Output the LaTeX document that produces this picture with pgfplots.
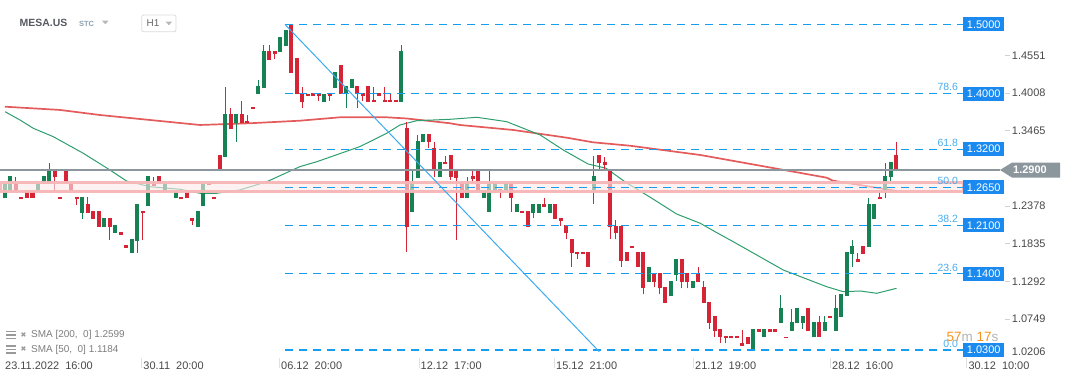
\documentclass[border=0pt]{standalone}
\usepackage{pgfplots}
\pgfplotsset{compat=1.18}
\usepackage{pgfplotstable}
\usepackage{fontspec}
\setmainfont{Liberation Sans}
\newfontfamily\dejavu{DejaVu Sans}
\definecolor{redc}{RGB}{212,36,54}
\definecolor{greenc}{RGB}{22,130,84}
\definecolor{fibblue}{RGB}{22,158,240}
\definecolor{diagblue}{RGB}{60,170,240}
\definecolor{fibtxt}{RGB}{70,172,238}
\definecolor{boxblue}{RGB}{26,138,240}
\definecolor{smared}{RGB}{222,62,62}
\definecolor{smagreen}{RGB}{46,158,110}
\definecolor{pricegray}{RGB}{140,151,157}
\definecolor{bandfill}{RGB}{253,232,232}
\definecolor{bandedge}{RGB}{246,182,182}
\definecolor{txtgray}{RGB}{72,72,72}
\definecolor{leggray}{RGB}{125,125,125}
\definecolor{timeorange}{RGB}{247,148,29}
\tikzset{
  fiblab/.style={anchor=south east, inner sep=0pt, text=fibtxt, font=\fontsize{10.5}{12}\selectfont, yshift=2.5bp},
  pbox/.style={anchor=west, fill=boxblue, text=white, inner sep=0pt, minimum width=41bp, minimum height=14bp, font=\fontsize{11}{12}\selectfont},
  rlab/.style={anchor=west, inner sep=0pt, text=txtgray, font=\fontsize{11}{12}\selectfont}}

\pgfplotstableread{
i o h l c
2 1.2697 1.2794 1.2600 1.2600
3 1.2514 1.2514 1.2476 1.2476
4 1.2611 1.2611 1.2491 1.2491
5 1.2611 1.2611 1.2491 1.2491
9 1.2914 1.2914 1.2600 1.2794
10 1.2514 1.2514 1.2476 1.2476
11 1.2914 1.2914 1.2697 1.2697
12 1.2697 1.2697 1.2600 1.2600
13 1.2514 1.2514 1.2394 1.2476
15 1.2408 1.2505 1.2283 1.2283
16 1.2307 1.2307 1.2187 1.2187
17 1.2307 1.2307 1.2080 1.2080
19 1.2202 1.2202 1.1889 1.2080
21 1.1999 1.1999 1.1961 1.1961
22 1.1816 1.1816 1.1778 1.1778
25 1.2307 1.2307 1.1889 1.2274
27 1.2697 1.2794 1.2668 1.2668
28 1.2813 1.2813 1.2697 1.2697
30 1.2611 1.2611 1.2596 1.2596
32 1.2505 1.2505 1.2476 1.2476
33 1.2611 1.2611 1.2491 1.2491
34 1.2202 1.2202 1.2105 1.2167
37 1.2707 1.2707 1.2678 1.2678
38 1.2505 1.2505 1.2476 1.2476
39 1.3116 1.3116 1.2899 1.2899
41 1.3708 1.3799 1.3487 1.3487
43 1.3708 1.3900 1.3582 1.3582
44 1.3611 1.3693 1.3574 1.3574
45 1.3809 1.3809 1.3776 1.3776
48 1.4617 1.4704 1.4487 1.4487
49 1.4617 1.4617 1.4502 1.4574
52 1.4993 1.4993 1.4295 1.4295
53 1.4512 1.4512 1.3992 1.3992
54 1.3992 1.4102 1.3799 1.3885
55 1.4001 1.4001 1.3972 1.3972
56 1.4007 1.4007 1.3972 1.3972
57 1.4007 1.4007 1.3895 1.3972
59 1.4007 1.4007 1.3895 1.3972
61 1.4415 1.4415 1.3997 1.3997
64 1.4112 1.4112 1.3799 1.3992
65 1.4007 1.4007 1.3895 1.3972
66 1.4112 1.4112 1.3885 1.3885
67 1.3910 1.4102 1.3877 1.3877
68 1.4007 1.4007 1.3972 1.3972
69 1.3910 1.4102 1.3877 1.3877
70 1.3910 1.3997 1.3877 1.3877
71 1.3910 1.3910 1.3877 1.3877
73 1.3501 1.3588 1.1711 1.2080
77 1.3419 1.3419 1.3213 1.3299
78 1.3213 1.3308 1.2803 1.2899
80 1.3015 1.3106 1.2982 1.2982
81 1.3116 1.3116 1.2755 1.2794
82 1.2914 1.2914 1.1889 1.2788
83 1.2730 1.2730 1.2491 1.2491
85 1.2813 1.2889 1.2712 1.2769
86 1.2914 1.2914 1.2596 1.2596
90 1.2621 1.2621 1.2499 1.2596
92 1.2707 1.2707 1.2297 1.2491
94 1.2307 1.2307 1.2274 1.2274
95 1.2307 1.2307 1.2080 1.2080
98 1.2404 1.2491 1.2369 1.2369
100 1.2404 1.2404 1.2187 1.2187
101 1.2202 1.2202 1.2091 1.2167
102 1.2105 1.2105 1.1899 1.1985
103 1.1899 1.1899 1.1503 1.1697
104 1.1711 1.1711 1.1610 1.1682
105 1.1711 1.1711 1.1682 1.1682
106 1.1711 1.1711 1.1495 1.1495
108 1.3116 1.3116 1.2909 1.2996
109 1.3010 1.3091 1.2909 1.2971
110 1.2909 1.2909 1.1899 1.2072
111 1.2091 1.2177 1.1899 1.1985
112 1.2091 1.2091 1.1503 1.1590
113 1.1711 1.1711 1.1590 1.1590
114 1.1806 1.1806 1.1778 1.1778
115 1.1711 1.1711 1.1495 1.1495
116 1.1711 1.1711 1.1105 1.1191
118 1.1408 1.1408 1.1206 1.1287
119 1.1408 1.1408 1.1105 1.1191
120 1.1206 1.1206 1.0983 1.0983
123 1.1610 1.1610 1.1191 1.1287
124 1.1408 1.1408 1.1191 1.1287
126 1.1408 1.1503 1.1287 1.1287
127 1.1206 1.1297 1.0983 1.0983
128 1.0998 1.0998 1.0599 1.0686
129 1.0796 1.0796 1.0493 1.0579
130 1.0599 1.0599 1.0397 1.0484
131 1.0503 1.0503 1.0397 1.0469
132 1.0503 1.0503 1.0469 1.0469
133 1.0503 1.0503 1.0469 1.0469
134 1.0397 1.0589 1.0363 1.0363
135 1.0493 1.0493 1.0383 1.0383
137 1.0599 1.0599 1.0565 1.0565
139 1.0599 1.0599 1.0565 1.0565
140 1.0599 1.0599 1.0565 1.0565
142 1.0493 1.0493 1.0469 1.0469
146 1.0903 1.0903 1.0579 1.0579
148 1.0700 1.0791 1.0484 1.0484
150 1.0796 1.0796 1.0767 1.0767
155 1.1610 1.1697 1.1576 1.1576
156 1.1806 1.1806 1.1687 1.1687
159 1.2505 1.2611 1.2476 1.2476
162 1.3116 1.3299 1.2899 1.2899
}\redtab

\pgfplotstableread{
i o h l c
0 1.2491 1.2697 1.2491 1.2697
1 1.2600 1.2813 1.2600 1.2813
6 1.2600 1.2697 1.2600 1.2697
7 1.2697 1.2813 1.2697 1.2813
8 1.2697 1.3005 1.2697 1.2914
14 1.2283 1.2505 1.2196 1.2505
18 1.2080 1.2202 1.2080 1.2202
20 1.1985 1.2105 1.1985 1.2105
23 1.1697 1.1899 1.1697 1.1899
24 1.1878 1.2408 1.1705 1.2408
26 1.2384 1.2813 1.2384 1.2813
29 1.2600 1.2697 1.2600 1.2697
31 1.2491 1.2600 1.2491 1.2600
35 1.2080 1.2307 1.2080 1.2307
36 1.2384 1.2697 1.2384 1.2697
40 1.3091 1.4102 1.3091 1.3708
42 1.3582 1.3708 1.3308 1.3708
46 1.3992 1.4199 1.3992 1.4112
47 1.4087 1.4704 1.4087 1.4617
50 1.4599 1.4815 1.4599 1.4815
51 1.4694 1.4921 1.4694 1.4921
58 1.3885 1.3997 1.3885 1.3997
60 1.4087 1.4310 1.4087 1.4310
62 1.3992 1.4112 1.3799 1.4112
63 1.4087 1.4209 1.4087 1.4209
72 1.3885 1.4704 1.3885 1.4617
74 1.2288 1.2885 1.2288 1.2712
75 1.2788 1.3405 1.2788 1.3318
76 1.3299 1.3419 1.3299 1.3419
79 1.2794 1.3015 1.2794 1.3015
84 1.2491 1.2803 1.2491 1.2730
87 1.2491 1.2611 1.2491 1.2611
88 1.2288 1.2889 1.2288 1.2707
89 1.2596 1.2707 1.2596 1.2707
91 1.2596 1.2707 1.2596 1.2707
93 1.2288 1.2404 1.2288 1.2404
96 1.2283 1.2404 1.2202 1.2404
97 1.2283 1.2404 1.2283 1.2404
99 1.2283 1.2404 1.2283 1.2404
107 1.2611 1.3101 1.2404 1.2813
117 1.1287 1.1503 1.1287 1.1503
121 1.1085 1.1301 1.1085 1.1301
122 1.1383 1.1610 1.1301 1.1610
125 1.1191 1.1301 1.1191 1.1301
136 1.0290 1.0599 1.0290 1.0599
138 1.0484 1.0599 1.0484 1.0599
141 1.0686 1.1095 1.0686 1.0903
143 1.0579 1.0888 1.0579 1.0700
144 1.0686 1.0903 1.0686 1.0903
145 1.0686 1.0796 1.0599 1.0796
147 1.0484 1.0700 1.0484 1.0700
149 1.0579 1.0791 1.0579 1.0700
151 1.0579 1.1095 1.0579 1.0903
152 1.0781 1.1105 1.0781 1.1105
153 1.1085 1.1711 1.1085 1.1711
154 1.1687 1.1889 1.1503 1.1806
157 1.1792 1.2491 1.1792 1.2408
158 1.2187 1.2408 1.2187 1.2408
160 1.2600 1.3005 1.2491 1.2813
161 1.2794 1.3010 1.2745 1.3010
}\greentab

\begin{document}
\begin{tikzpicture}
\useasboundingbox (0bp,0bp) rectangle (1072bp,382bp);
\begin{axis}[at={(0bp,25bp)}, anchor=south west, scale only axis,
  width=960bp, height=357bp,
  xmin=-0.909, xmax=173.636, ymin=1.0199, ymax=1.53537,
  hide axis, clip=false]

% SMA 200
\addplot[smared, line width=1.7bp, opacity=0.85, forget plot] coordinates {
(0,1.3813) (10,1.3766) (17.27,1.3693) (29.4,1.3597) (35.45,1.3549) (44.55,1.3574)
(53.64,1.3611) (60.9,1.3660) (69.4,1.3660) (73.0,1.3643) (80.9,1.3574) (82.7,1.3549)
(92.4,1.3477) (102.1,1.3366) (106.9,1.3299) (113.6,1.3250) (126.4,1.3116)
(137.3,1.2961) (149.4,1.2788) (150.5,1.2745) (162.1,1.2596)};
% SMA 50
\addplot[smagreen, line width=1bp, forget plot] coordinates {
(0,1.3741) (2.73,1.3621) (5.15,1.3501) (8.78,1.3380) (14.24,1.3140) (19.09,1.2899)
(22.1,1.2740) (26.36,1.2658) (31.8,1.2621) (35.45,1.2563) (38.5,1.2563) (42.7,1.2611)
(47.6,1.2730) (53.6,1.2947) (56.7,1.3019) (64.5,1.3236) (69.4,1.3429) (71.8,1.3549)
(74.85,1.3611) (80.9,1.3631) (85.8,1.3660) (91.2,1.3597) (97.3,1.3405) (101.5,1.3188)
(106.0,1.2986) (109.3,1.2924) (112.7,1.2730) (117.6,1.2491) (122.1,1.2264)
(126.4,1.2130) (129.1,1.2008) (132.4,1.1864) (141.5,1.1455) (149.4,1.1214)
(152.4,1.1142) (155.5,1.1152) (158.5,1.1119) (162.1,1.1191)};

% wicks
\addplot[forget plot, draw=none, mark=none,
  error bars/.cd, y dir=plus, y explicit, error mark=none,
  error bar style={line width=1bp, draw=redc, solid}]
  table[x=i, y=l, y error expr=\thisrow{h}-\thisrow{l}] {\redtab};
\addplot[forget plot, draw=none, mark=none,
  error bars/.cd, y dir=plus, y explicit, error mark=none,
  error bar style={line width=1bp, draw=greenc, solid}]
  table[x=i, y=l, y error expr=\thisrow{h}-\thisrow{l}] {\greentab};
% bodies
\addplot[forget plot, draw=none, mark=none,
  error bars/.cd, y dir=plus, y explicit, error mark=none,
  error bar style={line width=4bp, draw=redc, solid}]
  table[x=i, y=c, y error expr=\thisrow{o}-\thisrow{c}] {\redtab};
\addplot[forget plot, draw=none, mark=none,
  error bars/.cd, y dir=plus, y explicit, error mark=none,
  error bar style={line width=4bp, draw=greenc, solid}]
  table[x=i, y=o, y error expr=\thisrow{c}-\thisrow{o}] {\greentab};

% band
\addplot[forget plot, draw=bandedge, line width=3bp, fill=bandfill, fill opacity=0.62, draw opacity=0.95]
  coordinates {(-0.909,1.2723) (174.18,1.2723) (174.18,1.2585) (-0.909,1.2585)} -- cycle;

% current price line
\addplot[forget plot, pricegray, line width=1.2bp] coordinates {(-0.909,1.29) (180.9,1.29)};

% fib levels
\pgfplotsinvokeforeach{1.5,1.4,1.32,1.265,1.21,1.14,1.03}{
  \addplot[forget plot, fibblue, line width=1.3bp, dash pattern=on 8bp off 6bp]
    coordinates {(50.91,#1) (174.18,#1)};
}
% diagonal
\addplot[forget plot, diagblue, line width=1bp] coordinates {(50.91,1.5) (108.05,1.0276)};

% fib percentage labels
\node[fiblab] at (axis cs:173.3,1.4) {78.6};
\node[fiblab] at (axis cs:173.3,1.32) {61.8};
\node[fiblab] at (axis cs:173.3,1.265) {50.0};
\node[fiblab] at (axis cs:173.3,1.21) {38.2};
\node[fiblab] at (axis cs:173.3,1.14) {23.6};
\node[fiblab] at (axis cs:173.3,1.03) {0.0};
% blue price boxes
\node[pbox] at (axis cs:174.18,1.5) {1.5000};
\node[pbox] at (axis cs:174.18,1.4) {1.4000};
\node[pbox] at (axis cs:174.18,1.32) {1.3200};
\node[pbox] at (axis cs:174.18,1.265) {1.2650};
\node[pbox] at (axis cs:174.18,1.21) {1.2100};
\node[pbox] at (axis cs:174.18,1.14) {1.1400};
\node[pbox] at (axis cs:174.18,1.03) {1.0300};
% right scale labels
\node[rlab] at (axis cs:183.04,1.4551) {1.4551};
\node[rlab] at (axis cs:183.04,1.4008) {1.4008};
\node[rlab] at (axis cs:183.04,1.3465) {1.3465};
\node[rlab] at (axis cs:183.04,1.2378) {1.2378};
\node[rlab] at (axis cs:183.04,1.1835) {1.1835};
\node[rlab] at (axis cs:183.04,1.1292) {1.1292};
\node[rlab] at (axis cs:183.04,1.0749) {1.0749};
\node[rlab] at (axis cs:183.04,1.0279) {1.0206};
\pgfplotsinvokeforeach{1.4551,1.4008,1.3465,1.2378,1.1835,1.1292,1.0749}{
  \draw[black!18, line width=0.8bp] (axis cs:181.9,#1) -- (axis cs:182.8,#1);
}
\end{axis}

\begin{scope}[x=1bp, y=-1bp, yshift=382bp]
% title block
\node[anchor=west, inner sep=0pt, text={rgb,255:red,85;green,90;blue,96}, font=\fontsize{10.5}{12}\selectfont\bfseries] at (19.5,23) {MESA.US};
\node[anchor=west, inner sep=0pt, text={rgb,255:red,143;green,160;blue,178}, font=\fontsize{7.5}{9}\selectfont\bfseries] at (79,24) {STC};
\fill[black!28] (102,20.7) -- (108.6,20.7) -- (105.3,24.3) -- cycle;
\draw[black!14, line width=0.8bp, rounded corners=2bp] (141.7,15) rectangle (176,31.7);
\node[anchor=west, inner sep=0pt, text=black!60, font=\fontsize{10}{12}\selectfont] at (146.5,23.5) {H1};
\fill[black!28] (165.6,21.7) -- (172.2,21.7) -- (168.9,25.2) -- cycle;

% price tag
\fill[pricegray] (1000,170) -- (1012,162.6) -- (1060,162.6) -- (1060,177.6) -- (1012,177.6) -- cycle;
\node[anchor=west, inner sep=0pt, text=white, font=\fontsize{11}{12}\selectfont\bfseries] at (1013,170.2) {1.2900};

% legend
\foreach \yy/\t in {335/{SMA [200,\ \ 0] 1.2599}, 349.5/{SMA [50,\ \ 0] 1.1184}}{
  \draw[black!40, line width=1.5bp] (6,\yy-3.6) -- (15.5,\yy-3.6);
  \draw[black!40, line width=1.5bp] (6,\yy) -- (15.5,\yy);
  \draw[black!40, line width=1.5bp] (6,\yy+3.6) -- (15.5,\yy+3.6);
  \node[inner sep=0pt, text=black!40, font=\dejavu\fontsize{7}{8}\selectfont] at (23.5,\yy) {✖};
  \node[anchor=west, inner sep=0pt, text=leggray, font=\fontsize{10}{12}\selectfont] at (31,\yy) {\t};
}

% countdown
\node[anchor=west, inner sep=0pt, font=\fontsize{13.5}{15}\selectfont] at (946.5,337)
  {\textcolor{timeorange}{57}\textcolor{black!30}{m} \textcolor{timeorange}{17}\textcolor{black!30}{s}};

% date axis
\foreach \xx/\t in {5/{23.11.2022\ \ 16:00}, 143.3/{30.11\ \ 20:00}, 281/{06.12\ \ 20:00}, 420.5/{12.12\ \ 17:00}, 556/{15.12\ \ 21:00}, 695/{21.12\ \ 19:00}, 832/{28.12\ \ 16:00}, 968.3/{30.12\ \ 10:00}}{
  \node[anchor=west, inner sep=0pt, text=txtgray, font=\fontsize{11}{12}\selectfont] at (\xx,365.5) {\t};
}
\foreach \xx in {141.8, 279.6, 419, 554.5, 693.5, 830.5, 966.8}{
  \draw[black!12, line width=0.8bp] (\xx,358) -- (\xx,368);
}
\end{scope}
\end{tikzpicture}
\end{document}
